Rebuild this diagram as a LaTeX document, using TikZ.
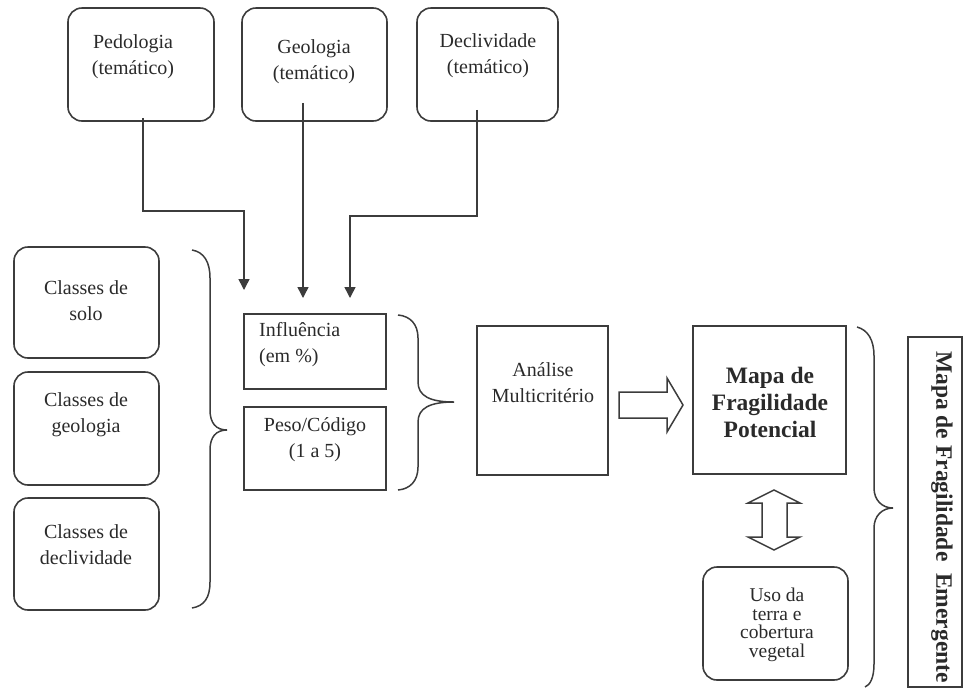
\documentclass[tikz,border=0pt]{standalone}
\usepackage{fontspec}
\setmainfont{Liberation Serif}
\usetikzlibrary{arrows.meta}
\definecolor{lc}{HTML}{3C3C3C}
\definecolor{tc}{HTML}{2A2A2A}
\begin{document}
\begin{tikzpicture}[x=1pt,y=-1pt,
  rbox/.style={draw=lc, line width=1.6pt, rounded corners=14pt, inner sep=0},
  sbox/.style={draw=lc, line width=1.6pt, inner sep=0},
  txt/.style={font=\fontsize{20}{26}\selectfont, align=center, text=tc, inner sep=0},
  conn/.style={draw=lc, line width=1.5pt, -{Triangle[width=11pt,length=11pt]}},
  brace/.style={draw=lc, line width=1.5pt},
  barrow/.style={draw=lc, line width=1.5pt, fill=white}]
\useasboundingbox (0,0) rectangle (965,689);

% top thematic boxes
\node[rbox, minimum width=146pt, minimum height=113pt] (ped) at (141,64.5) {};
\node[rbox, minimum width=145pt, minimum height=113pt] (geo) at (314.5,64.5) {};
\node[rbox, minimum width=141pt, minimum height=113pt] (dec) at (487.5,64.5) {};
\node[txt] (tped) at (133,57) {Pedologia\\(temático)};
\node[txt] (tgeo) at (314,62) {Geologia\\(temático)};
\node[txt] (tdec) at (488,56) {Declividade\\(temático)};

% class boxes
\node[rbox, minimum width=145pt, minimum height=111pt] (solo) at (86.5,302.5) {};
\node[rbox, minimum width=145pt, minimum height=113pt] (cgeo) at (86.5,428.5) {};
\node[rbox, minimum width=145pt, minimum height=112pt] (cdec) at (86.5,554) {};
\node[txt] (tsolo) at (86,301) {Classes de\\solo};
\node[txt] (tcgeo) at (86,415) {Classes de\\geologia};
\node[txt] (tcdec) at (86,545) {Classes de\\declividade};

% influence / weight boxes
\node[sbox, minimum width=142pt, minimum height=75pt] (inf) at (315,351.5) {};
\node[sbox, minimum width=142pt, minimum height=83pt] (peso) at (315,448.5) {};
\node[txt, align=left, anchor=west] (tinf) at (259,345) {Influência\\(em \%)};
\node[txt] (tpeso) at (315,440) {Peso/Código\\(1 a 5)};

% analysis and result boxes
\node[sbox, minimum width=131pt, minimum height=149pt] (ana) at (542.5,400.5) {};
\node[txt] (tana) at (543,383) {Análise\\Multicritério};
\node[sbox, minimum width=153pt, minimum height=148pt] (mapa) at (769.5,400) {};
\node[txt, font=\fontsize{23.5}{27}\selectfont\bfseries] (tmapa) at (770,402) {Mapa de\\Fragilidade\\Potencial};
\node[rbox, minimum width=145pt, minimum height=113pt] (uso) at (775.5,623.5) {};
\node[txt, font=\fontsize{19.5}{18.5}\selectfont] (tuso) at (777,625) {Uso da\\terra e\\cobertura\\vegetal};

% emergent map vertical box
\node[sbox, minimum width=54pt, minimum height=350pt] (emer) at (935,512) {};
\node[txt, rotate=-90, font=\fontsize{23.5}{26}\selectfont\bfseries] (temer) at (942,517) {Mapa de Fragilidade\ \ Emergente};

% connectors
\coordinate (t1) at (244,290);
\coordinate (t2) at (303,298);
\coordinate (t3) at (350,298);
\draw[conn] ([xshift=2pt,yshift=4pt]ped.south) |- (t1 |- 0,211) -- (t1);
\draw[conn] ([xshift=-11.5pt,yshift=19pt]geo.south) -- (t2);
\draw[conn] ([xshift=-10.5pt,yshift=12pt]dec.south) |- (t3 |- 0,216) -- (t3);

% braces
\draw[brace] (192,250) .. controls (204,252) and (210,262) .. (210,278) -- (210,410)
  .. controls (210,423) and (216,430) .. (227,430)
  .. controls (216,430) and (210,437) .. (210,450) -- (210,582)
  .. controls (210,598) and (204,606) .. (192,608);
\draw[brace] (398,315) .. controls (410,316) and (418,324) .. (418,338) -- (418,382)
  .. controls (418,396) and (430,402) .. (454,402)
  .. controls (430,402) and (418,408) .. (418,422) -- (418,467)
  .. controls (418,481) and (410,489) .. (398,490);
\draw[brace] (857,327) .. controls (868,330) and (874,340) .. (874,356) -- (874,488)
  .. controls (874,500) and (882,508) .. (893,508)
  .. controls (882,508) and (874,516) .. (874,528) -- (874,664)
  .. controls (874,678) and (870,685) .. (865,687);

% block arrows
\draw[barrow, line join=miter] (619,392) -- (667,392) -- (667,378) -- (683,405) -- (667,432) -- (667,418) -- (619,418) -- cycle;
\draw[barrow, line join=miter] (774,490) -- (800,503) -- (787,503) -- (787,537) -- (800,537) -- (774,550)
  -- (748,537) -- (762,537) -- (762,503) -- (748,503) -- cycle;
\end{tikzpicture}
\end{document}
